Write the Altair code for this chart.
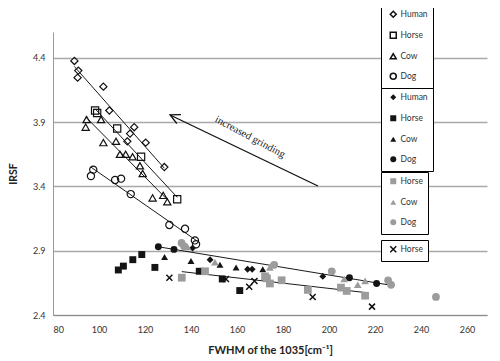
import altair as alt
import pandas as pd

# ---- data ----
# open markers
hum_o_x = [89.3, 91.0, 90.7, 101.9, 104.5, 115.3, 113.5, 112.3, 120.3, 128.4]
hum_o_y = [4.375, 4.30, 4.245, 4.175, 3.99, 3.86, 3.81, 3.75, 3.74, 3.55]
hor_o_x = [98.3, 99.2, 107.9, 118.3, 134.0]
hor_o_y = [3.99, 3.97, 3.85, 3.63, 3.30]
cow_o_x = [94.6, 94.2, 100.9, 101.9, 107.4, 109.1, 111.6, 114.6, 117.8, 119.0, 123.3, 127.9, 129.7]
cow_o_y = [3.92, 3.86, 3.92, 3.74, 3.75, 3.65, 3.65, 3.63, 3.56, 3.50, 3.31, 3.33, 3.28]
dog_o_x = [97.5, 96.5, 107.0, 109.6, 113.8, 130.6, 137.4, 141.7, 142.2]
dog_o_y = [3.53, 3.48, 3.45, 3.46, 3.34, 3.10, 3.07, 2.98, 2.95]
# black filled markers
hum_b_x = [140.7, 148.3, 164.6, 166.6, 197.3]
hum_b_y = [2.92, 2.83, 2.755, 2.755, 2.70]
hor_b_x = [108.4, 110.6, 114.7, 118.6, 124.3, 143.6, 153.6, 161.2]
hor_b_y = [2.75, 2.78, 2.83, 2.87, 2.77, 2.74, 2.68, 2.59]
cow_b_x = [128.5, 140.0, 152.6, 159.6, 171.2]
cow_b_y = [2.85, 2.82, 2.79, 2.77, 2.755]
dog_b_x = [125.8, 132.6, 208.9, 220.7]
dog_b_y = [2.93, 2.91, 2.69, 2.645]
# gray markers
hor_g_x = [136.0, 146.1, 172.2, 173.0, 174.3, 179.4, 190.8, 205.2, 207.7, 215.7]
hor_g_y = [2.69, 2.74, 2.70, 2.685, 2.645, 2.67, 2.595, 2.613, 2.587, 2.55]
cow_g_x = [138.5, 150.4, 174.3, 175.1, 206.6, 212.5, 215.7]
cow_g_y = [2.93, 2.81, 2.77, 2.79, 2.68, 2.635, 2.665]
dog_g_x = [135.9, 137.0, 176.2, 201.2, 225.7, 227.0, 246.5]
dog_g_y = [2.96, 2.935, 2.79, 2.74, 2.67, 2.635, 2.54]
# crosses
hor_x_x = [130.6, 155.2, 165.3, 167.6, 192.9, 218.7]
hor_x_y = [2.69, 2.68, 2.62, 2.665, 2.54, 2.465]

# annotation arrow (tail -> head) and its label
arrow_x = [195.2, 130.9]
arrow_y = [3.403, 3.955]
note_x = [165.7]
note_y = [3.784]
note_text = ["increased grinding"]

x_ticks = [80, 100, 120, 140, 160, 180, 200, 220, 240, 260]
y_ticks = [2.4, 2.9, 3.4, 3.9, 4.4]

animals4 = ["Human", "Horse", "Cow", "Dog"]
animals3 = ["Horse", "Cow", "Dog"]


def frame(xs, ys, animal, grp):
    return pd.DataFrame({"x": xs, "y": ys, "animal": animal, "grp": grp})


open_df = pd.concat([
    frame(hum_o_x, hum_o_y, "Human", "o_hum"),
    frame(hor_o_x, hor_o_y, "Horse", "o_hor"),
    frame(cow_o_x, cow_o_y, "Cow", "o_cow"),
    frame(dog_o_x, dog_o_y, "Dog", "o_dog"),
])
black_df = pd.concat([
    frame(hum_b_x, hum_b_y, "Human", "b_hum"),
    frame(hor_b_x, hor_b_y, "Horse", "b_hor"),
    frame(cow_b_x, cow_b_y, "Cow", "b_cow"),
    frame(dog_b_x, dog_b_y, "Dog", "b_dog"),
])
gray_df = pd.concat([
    frame(hor_g_x, hor_g_y, "Horse", "g_hor"),
    frame(cow_g_x, cow_g_y, "Cow", "g_cow"),
    frame(dog_g_x, dog_g_y, "Dog", "g_dog"),
])
cross_df = frame(hor_x_x, hor_x_y, "Horse", "x_hor")

arrow_df = pd.DataFrame({"x": [arrow_x[0]], "y": [arrow_y[0]],
                         "x_end": [arrow_x[1]], "y_end": [arrow_y[1]]})
head_df = pd.DataFrame({"x": [arrow_x[1]], "y": [arrow_y[1]]})
note_df = pd.DataFrame({"x": note_x, "y": note_y, "t": note_text})

FONT = "Lato"
xscale = alt.Scale(domain=[80, 268.7], nice=False, zero=False)
yscale = alt.Scale(domain=[2.4, 4.6], nice=False, zero=False)
xaxis = alt.Axis(values=x_ticks, grid=False, ticks=False, domainColor="#8c8c8c",
                 labelFontSize=9, labelColor="#333333", labelFont=FONT, labelPadding=10,
                 titleFont=FONT, titleFontSize=11, titleFontWeight="bold",
                 titleColor="#222222", titlePadding=10)
yaxis = alt.Axis(values=y_ticks, format=".1f", grid=True, gridColor="#a9a9a9", gridWidth=1.6,
                 ticks=False, domainColor="#9a9a9a", labelFontSize=9, labelColor="#333333",
                 labelFont=FONT, labelPadding=8, titleFont=FONT, titleFontSize=10.5,
                 titleFontWeight="bold", titleColor="#222222", titlePadding=14)
X = alt.X("x:Q", scale=xscale, axis=xaxis, title="FWHM of the 1035[cm\u207b\u00b9]")
Y = alt.Y("y:Q", scale=yscale, axis=yaxis, title="IRSF")

CROSS = "M-1,-1L1,1M-1,1L1,-1"
HEAD = "M1,-0.5L0,0L1,0.5"


def legend(lx, ly, pad):
    return alt.Legend(title=None, orient="none", legendX=lx, legendY=ly,
                      strokeColor="black", fillColor="white", padding=5,
                      symbolSize=36, rowPadding=8, labelFontSize=8.5, labelFont=FONT,
                      labelColor="#333333", symbolOffset=3, labelOffset=3,
                      labelExpr="datum.label + '" + "\u00a0" * pad + "'")


# trend lines
open_lines = alt.Chart(open_df).transform_regression(
    "x", "y", groupby=["grp"]).mark_line(color="black", strokeWidth=0.9).encode(
    x=X, y=Y, detail="grp:N")
upper_line = alt.Chart(frame(dog_b_x, dog_b_y, "Dog", "b_dog")).transform_regression(
    "x", "y", extent=[125.8, 225.5]).mark_line(color="black", strokeWidth=0.9).encode(x=X, y=Y)
lower_line = alt.Chart(frame(hor_g_x, hor_g_y, "Horse", "g_hor")).transform_regression(
    "x", "y").mark_line(color="black", strokeWidth=0.9).encode(x=X, y=Y)

arrow = alt.Chart(arrow_df).mark_rule(color="#111111", strokeWidth=1.3).encode(
    x=X, y=Y, x2="x_end:Q", y2="y_end:Q")
head = alt.Chart(head_df).mark_point(shape=HEAD, size=380, filled=False, color="#111111",
                                     strokeWidth=1.3, angle=25, opacity=1).encode(x=X, y=Y)
note = alt.Chart(note_df).mark_text(angle=28, font="Liberation Serif", fontSize=10.5,
                                    color="#222222").encode(x=X, y=Y, text="t:N")

open_pts = alt.Chart(open_df).mark_point(filled=False, color="#111111", strokeWidth=1.2,
                                         size=52, opacity=1).encode(
    x=X, y=Y,
    shape=alt.Shape("animal:N", scale=alt.Scale(domain=animals4,
                    range=["diamond", "square", "triangle-up", "circle"]),
                    legend=legend(328, -27, 16)))
black_pts = alt.Chart(black_df).mark_point(filled=True, color="#141414", size=48,
                                           opacity=1).encode(
    x=X, y=Y,
    shape=alt.Shape("animal:N", scale=alt.Scale(domain=animals4,
                    range=["diamond", "square", "triangle-up", "circle"]),
                    legend=legend(328, 56, 16)))
gray_pts = alt.Chart(gray_df).mark_point(filled=True, color="#9c9c9c", size=60,
                                         opacity=1).encode(
    x=X, y=Y,
    shape=alt.Shape("animal:N", scale=alt.Scale(domain=animals3,
                    range=["square", "triangle-up", "circle"]),
                    legend=legend(328, 140, 18)))
cross_pts = alt.Chart(cross_df).mark_point(filled=False, color="#111111", strokeWidth=1.5,
                                           size=36, opacity=1).encode(
    x=X, y=Y,
    shape=alt.Shape("animal:N", scale=alt.Scale(domain=["Horse"], range=[CROSS]),
                    legend=legend(328, 208, 18)))

chart = alt.layer(
    open_lines, upper_line, lower_line, arrow, head, note,
    open_pts, black_pts, gray_pts, cross_pts
).resolve_scale(shape="independent").properties(
    width=434, height=283,
    padding={"left": 45, "top": 24, "right": 5, "bottom": 46},
    autosize=alt.AutoSizeParams(type="none"),
    background="white",
).configure_view(stroke=None)

chart.save("out.html", embed_options={"renderer": "svg", "actions": False})
